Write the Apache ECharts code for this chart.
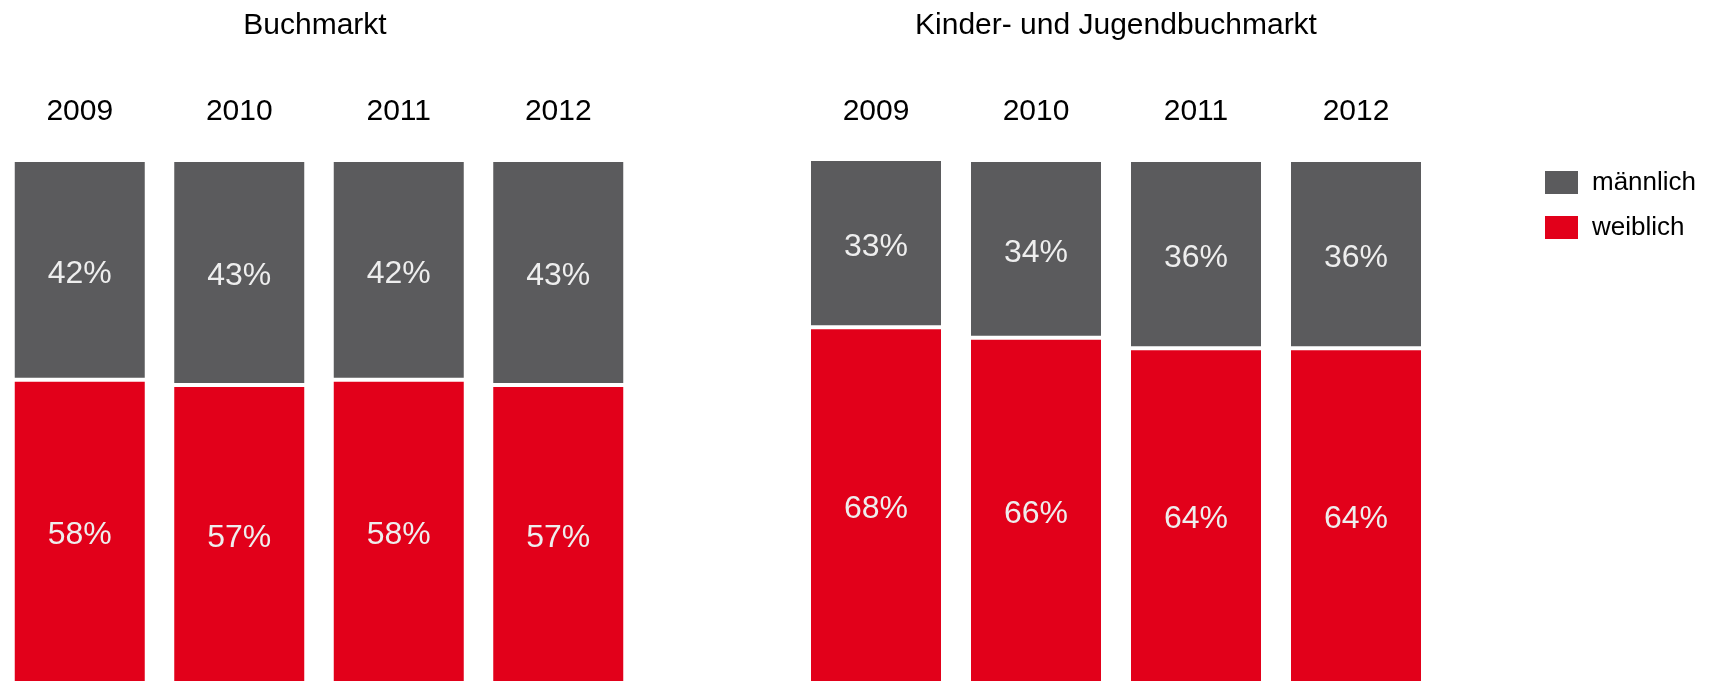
<!DOCTYPE html>
<html>
<head>
<meta charset="utf-8">
<script src="https://cdn.jsdelivr.net/npm/echarts@6/dist/echarts.min.js"></script>
<style>
  html, body { margin: 0; padding: 0; background: #fff; }
  #chart { width: 1711px; height: 683px; }
</style>
</head>
<body>
<div id="chart"></div>
<script>
const years = ['2009', '2010', '2011', '2012']
const buchMaennlich = [42, 43, 42, 43]
const buchWeiblich = [58, 57, 58, 57]
const kjMaennlich = [33, 34, 36, 36]
const kjWeiblich = [68, 66, 64, 64]

const GRAY = '#5b5b5d'
const RED = '#e2001a'
const FONT = '"Liberation Sans", Arial, sans-serif'

const chart = echarts.init(document.getElementById('chart'))

function xAxis(gridIndex) {
  return {
    type: 'category',
    gridIndex,
    position: 'top',
    data: years,
    axisLine: { show: false },
    axisTick: { show: false },
    axisLabel: { fontSize: 30, color: '#000', fontFamily: FONT, margin: 33 }
  }
}

function yAxis(gridIndex) {
  return { type: 'value', gridIndex, min: 0, max: 100, show: false }
}

function barSeries(name, data, color, idx, stack) {
  return {
    name,
    type: 'bar',
    stack,
    xAxisIndex: idx,
    yAxisIndex: idx,
    data,
    barWidth: 134,
    itemStyle: { color, borderColor: '#fff', borderWidth: 2 },
    label: {
      show: true,
      position: 'inside',
      offset: [0, 4],
      formatter: '{c}%',
      color: '#eeeeee',
      fontSize: 32,
      fontFamily: FONT
    }
  }
}

const option = {
  animation: false,
  textStyle: { fontFamily: FONT },
  title: [
    { text: 'Buchmarkt', left: 315, top: 11, textAlign: 'center', padding: 0,
      textStyle: { fontSize: 30, fontWeight: 'normal', color: '#000', fontFamily: FONT } },
    { text: 'Kinder- und Jugendbuchmarkt', left: 1116, top: 11, textAlign: 'center', padding: 0,
      textStyle: { fontSize: 30, fontWeight: 'normal', color: '#000', fontFamily: FONT } }
  ],
  legend: {
    orient: 'vertical',
    left: 1543,
    top: 169,
    padding: 0,
    itemWidth: 35,
    itemHeight: 25,
    itemGap: 18,
    icon: 'rect',
    data: ['männlich', 'weiblich'],
    textStyle: { fontSize: 26, color: '#000', fontFamily: FONT, padding: [0, 0, 0, 8] }
  },
  grid: [
    { left: -2, width: 640, top: 160, bottom: -8 },
    { left: 796, width: 640, top: 160, bottom: -8 }
  ],
  xAxis: [xAxis(0), xAxis(1)],
  yAxis: [yAxis(0), yAxis(1)],
  series: [
    barSeries('weiblich', buchWeiblich, RED, 0, 'buch'),
    barSeries('männlich', buchMaennlich, GRAY, 0, 'buch'),
    barSeries('weiblich', kjWeiblich, RED, 1, 'kj'),
    barSeries('männlich', kjMaennlich, GRAY, 1, 'kj')
  ]
}

chart.setOption(option)
</script>
</body>
</html>
